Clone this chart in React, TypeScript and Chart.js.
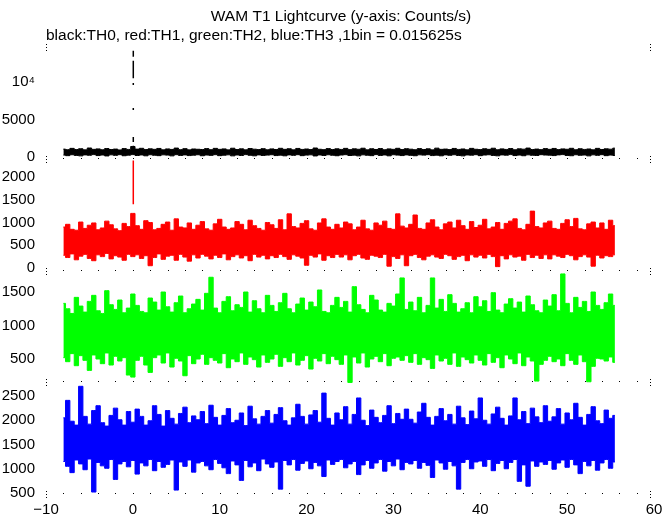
import React, { useEffect, useRef } from "react";
import { Chart, registerables } from "chart.js";

Chart.register(...registerables);

const TITLE = "WAM T1 Lightcurve (y-axis: Counts/s)";
const SUBTITLE = "black:TH0, red:TH1, green:TH2, blue:TH3 ,1bin = 0.015625s";

// bin start times (s) of 0.5 s summary bins
const TIMES = [
  -8, -7.5, -7, -6.5, -6, -5.5, -5, -4.5, -4, -3.5, -3, -2.5, -2, -1.5, -1, -0.5,
  0, 0.5, 1, 1.5, 2, 2.5, 3, 3.5, 4, 4.5, 5, 5.5, 6, 6.5, 7, 7.5,
  8, 8.5, 9, 9.5, 10, 10.5, 11, 11.5, 12, 12.5, 13, 13.5, 14, 14.5, 15, 15.5,
  16, 16.5, 17, 17.5, 18, 18.5, 19, 19.5, 20, 20.5, 21, 21.5, 22, 22.5, 23, 23.5,
  24, 24.5, 25, 25.5, 26, 26.5, 27, 27.5, 28, 28.5, 29, 29.5, 30, 30.5, 31, 31.5,
  32, 32.5, 33, 33.5, 34, 34.5, 35, 35.5, 36, 36.5, 37, 37.5, 38, 38.5, 39, 39.5,
  40, 40.5, 41, 41.5, 42, 42.5, 43, 43.5, 44, 44.5, 45, 45.5, 46, 46.5, 47, 47.5,
  48, 48.5, 49, 49.5, 50, 50.5, 51, 51.5, 52, 52.5, 53, 53.5, 54, 54.5, 55, 55.5,
];

// TH0 (black) max / min counts/s within each bin
const BLACK_MAX = [
  1050, 980, 1150, 1000, 1100, 950, 1200, 1020, 1080, 970, 1130, 1000, 1060, 940, 1120, 1010,
  1400, 1050, 1160, 990, 1090, 1020, 1140, 960, 1080, 1010, 1190, 980, 1110, 950, 1070, 1030,
  1000, 1120, 970, 1150, 1020, 1080, 950, 1170, 1000, 1090, 960, 1130, 1040, 990, 1110, 970,
  1080, 1000, 1160, 1020, 1100, 960, 1140, 1010, 1070, 990, 1200, 1030, 980, 1120, 1000, 1090,
  1010, 1150, 980, 1090, 1030, 1170, 960, 1100, 1000, 1130, 970, 1080, 1020, 1160, 990, 1110,
  1040, 970, 1120, 1000, 1090, 950, 1180, 1020, 1060, 990, 1140, 1010, 1070, 960, 1150, 1030,
  990, 1100, 1020, 1170, 970, 1080, 1010, 1130, 960, 1090, 1040, 1190, 1000, 1060, 980, 1120,
  1020, 1140, 990, 1080, 1030, 1160, 970, 1100, 1010, 1070, 960, 1150, 1000, 1090, 1040, 1180,
];
const BLACK_MIN = [
  250, 180, 300, 210, 150, 280, 230, 320, 190, 260, 140, 290, 220, 310, 170, 240,
  320, 200, 270, 160, 300, 230, 180, 290, 250, 150, 310, 210, 280, 190, 240, 300,
  170, 260, 220, 310, 180, 240, 290, 150, 270, 200, 320, 230, 160, 280, 210, 250,
  300, 190, 240, 160, 280, 220, 310, 180, 250, 290, 140, 270, 210, 300, 230, 170,
  260, 310, 200, 240, 150, 290, 230, 180, 320, 210, 270, 160, 300, 250, 190, 280,
  220, 170, 290, 250, 310, 190, 240, 160, 280, 230, 300, 200, 150, 270, 240, 310,
  180, 260, 300, 210, 160, 280, 240, 320, 190, 250, 170, 290, 230, 200, 310, 260,
  240, 190, 280, 320, 210, 170, 300, 230, 260, 150, 290, 220, 310, 180, 250, 200,
];

// TH1 (red)
const RED_MAX = [
  900, 960, 850, 830, 1010, 870, 940, 990, 840, 880, 1030, 950, 860, 820, 980, 910,
  1200, 930, 850, 1040, 1000, 840, 870, 960, 1010, 830, 1080, 900, 880, 990, 850, 940,
  1020, 860, 830, 970, 1070, 900, 850, 880, 1020, 960, 840, 1050, 930, 870, 830, 1000,
  950, 870, 1060, 840, 1190, 910, 880, 980, 1040, 860, 830, 990, 1080, 900, 850, 960,
  880, 1010, 970, 840, 900, 1050, 860, 830, 990, 940, 1030, 870, 850, 1190, 920, 880,
  960, 1165, 870, 850, 990, 1060, 900, 840, 970, 1010, 880, 1050, 930, 850, 1020, 890,
  940, 1070, 860, 900, 1000, 850, 980, 1030, 1080, 870, 840, 960, 1250, 910, 880, 990,
  1030, 870, 850, 980, 1060, 910, 1090, 860, 840, 970, 1010, 880, 990, 850, 1050, 930,
];
const RED_MIN = [
  280, 230, 310, 180, 260, 300, 210, 160, 290, 250, 320, 200, 270, 240, 170, 300,
  250, 290, 210, 270, 50, 230, 310, 190, 260, 280, 170, 300, 240, 150, 290, 220,
  300, 260, 200, 280, 230, 310, 180, 250, 290, 220, 270, 160, 300, 240, 280, 200,
  270, 230, 300, 250, 190, 290, 260, 220, 60, 280, 240, 310, 170, 270, 230, 300,
  240, 290, 180, 270, 300, 220, 190, 280, 260, 230, 300, 40, 250, 210, 290, 50,
  270, 300, 230, 180, 260, 290, 240, 210, 300, 270, 190, 250, 280, 160, 290, 240,
  280, 220, 300, 250, 30, 270, 200, 290, 240, 260, 170, 300, 230, 280, 210, 290,
  200, 290, 260, 230, 300, 270, 180, 250, 290, 240, 40, 280, 220, 270, 250, 290,
];

// TH2 (green)
const GREEN_MAX = [
  1330, 1250, 1180, 1420, 1290, 1200, 1360, 1450, 1220, 1180, 1520, 1310, 1240, 1380, 1190, 1260,
  1470, 1300, 1210, 1190, 1410, 1350, 1230, 1500, 1280, 1200, 1340, 1440, 1190, 1250, 1320, 1390,
  1230, 1480, 1720, 1260, 1190, 1360, 1430, 1220, 1310, 1270, 1500, 1200, 1370, 1250, 1190, 1450,
  1300, 1210, 1340, 1480, 1250, 1190, 1320, 1410, 1230, 1350, 1280, 1530, 1210, 1190, 1300, 1420,
  1270, 1360, 1200, 1580, 1310, 1240, 1190, 1450, 1380, 1230, 1200, 1330, 1290, 1470, 1710, 1240,
  1350, 1220, 1420, 1190, 1300, 1710, 1260, 1390, 1210, 1460, 1330, 1200, 1250, 1340, 1190, 1430,
  1280, 1370, 1210, 1490, 1230, 1190, 1320, 1400, 1260, 1350, 1200, 1440, 1310, 1220, 1190, 1380,
  1290, 1460, 1220, 1770, 1330, 1190, 1420, 1270, 1360, 1210, 1500, 1300, 1240, 1340, 1470, 1300,
];
const GREEN_MIN = [
  520, 460, 580, 400, 550, 480, 330, 560, 500, 430, 590, 410, 540, 470, 520, 260,
  230, 480, 540, 410, 300, 520, 560, 440, 590, 380, 510, 470, 250, 550, 430, 500,
  570, 420, 520, 480, 440, 580, 370, 500, 460, 590, 420, 530, 490, 380, 560, 450,
  500, 570, 390, 520, 460, 590, 410, 480, 550, 350, 510, 470, 580, 430, 540, 490,
  420, 560, 150, 530, 440, 590, 380, 500, 540, 460, 580, 400, 510, 530, 480, 550,
  450, 580, 420, 520, 490, 360, 560, 470, 510, 420, 590, 390, 530, 490, 440, 560,
  480, 410, 580, 450, 520, 370, 560, 500, 430, 590, 400, 530, 470, 170, 420, 480,
  540, 460, 500, 400, 580, 480, 420, 560, 460, 160, 390, 510, 500, 470, 530, 450,
];

// TH3 (blue)
const BLUE_MAX = [
  2050, 2410, 1980, 1900, 2700, 2080, 1920, 2200, 2300, 1950, 1880, 2100, 2250, 2010, 1900, 2180,
  1960, 2230, 2080, 1900, 1990, 2300, 2120, 1880, 2200, 2040, 1920, 2140, 2270, 1950, 2090, 2010,
  2180, 1930, 2310, 2060, 1900, 2100, 2240, 1950, 2000, 2150, 1890, 2290, 2030, 1920, 2080, 2200,
  1940, 2120, 2260, 1990, 1900, 2050, 2330, 2080, 1920, 2110, 2200, 1960, 2560, 2040, 1900, 2150,
  2010, 2280, 1920, 2120, 2460, 2000, 1890, 2210, 2060, 1950, 2100, 2300, 1930, 2140, 2020, 2230,
  2020, 1940, 2170, 2350, 2060, 1900, 2080, 2240, 1990, 2120, 1920, 2290, 2050, 1910, 2190, 2030,
  2460, 2000, 1920, 2130, 2270, 2040, 1900, 2090, 2460, 2010, 2180, 1930, 2250, 2070, 1950, 2300,
  1980, 2070, 2240, 1920, 2150, 2010, 2350, 2060, 1900, 2120, 2280, 1990, 1930, 2210, 2040, 2100,
];
const BLUE_MIN = [
  1150, 1050, 920, 1180, 1100, 980, 1200, 520, 1130, 1060, 1010, 1190, 780, 1100, 1150, 1040,
  1170, 890, 1120, 1060, 1190, 960, 1150, 1030, 1090, 1180, 560, 1140, 1050, 1180, 930, 1120,
  1150, 1060, 980, 1190, 1110, 1020, 900, 1160, 1080, 760, 1170, 1040, 1120, 960, 1200, 1100,
  1030, 1140, 580, 1170, 1080, 1190, 970, 1110, 1160, 1000, 1130, 1060, 840, 1180, 1090, 1150,
  1190, 1020, 1100, 1150, 880, 1080, 1170, 1010, 1120, 1190, 950, 1150, 1060, 1200, 980, 1130,
  1100, 1170, 1010, 1130, 1070, 820, 1180, 1120, 990, 1150, 1060, 580, 1130, 1190, 1000, 1140,
  1160, 1050, 1190, 960, 1110, 1170, 1000, 1130, 1190, 740, 1080, 640, 1160, 1050, 1140, 1090,
  1170, 990, 1120, 1180, 1030, 1190, 1080, 900, 1150, 1060, 1170, 970, 1120, 1190, 1010, 1140,
];

// burst at trigger time: isolated bins seen as vertical segments [low, high]
const BURST_TIME = 0.05;
const BLACK_BURST = [
  [1150, 1500],
  [2000, 2670],
  [6270, 6530],
  [9600, 9870],
  [10490, 12840],
  [13370, 14170],
];
const RED_BURST = [
  [1400, 2360],
  [1750, 1830],
];

const X_TICKS = [-10, 0, 10, 20, 30, 40, 50, 60];
const BLACK_TICKS = [0, 5000, 10000];
const RED_TICKS = [0, 500, 1000, 1500, 2000];
const GREEN_TICKS = [500, 1000, 1500];
const BLUE_TICKS = [500, 1000, 1500, 2000, 2500];

const FONT_FAMILY = "'Liberation Sans', Arial, Helvetica, sans-serif";

function bandDatasets(maxV: number[], minV: number[], color: string, axis: string) {
  const common = {
    borderColor: color,
    backgroundColor: color,
    borderWidth: 1,
    pointRadius: 0,
    stepped: "middle" as const,
    yAxisID: axis,
  };
  return [
    { ...common, data: TIMES.map((t, i) => ({ x: t, y: maxV[i] })), fill: false },
    { ...common, data: TIMES.map((t, i) => ({ x: t, y: minV[i] })), fill: "-1" },
  ];
}

function burstDataset(segs: number[][], color: string, axis: string) {
  const data: { x: number; y: number | null }[] = [];
  segs.forEach(([lo, hi]) => {
    data.push({ x: BURST_TIME, y: lo });
    data.push({ x: BURST_TIME, y: hi });
    data.push({ x: BURST_TIME, y: null });
  });
  return {
    data,
    borderColor: color,
    backgroundColor: color,
    borderWidth: 1.5,
    pointRadius: 0,
    spanGaps: false,
    fill: false,
    yAxisID: axis,
  };
}

function yAxis(min: number, max: number, ticks: number[], fmt?: (v: number) => string) {
  return {
    type: "linear" as const,
    position: "left" as const,
    stack: "panels",
    stackWeight: 1,
    min,
    max,
    grid: { display: false, drawTicks: false },
    border: { display: false },
    afterBuildTicks: (s: any) => {
      s.ticks = ticks.map((v) => ({ value: v }));
    },
    afterFit: (s: any) => {
      s.width = 46;
    },
    ticks: {
      color: "#000",
      padding: 11,
      font: { family: FONT_FAMILY, size: 15 },
      autoSkip: false,
      callback: (v: any) => (fmt ? fmt(Number(v)) : String(v)),
    },
  };
}

const AXIS_IDS = ["yBlue", "yGreen", "yRed", "yBlack"];

const decorPlugin = {
  id: "decor",
  afterDraw(chart: any) {
    const ctx = chart.ctx;
    const area = chart.chartArea;
    const xs = chart.scales.x;
    ctx.save();
    ctx.fillStyle = "#000";
    const bounds: number[] = [];
    AXIS_IDS.forEach((id) => {
      const s = chart.scales[id];
      bounds.push(Math.round(s.top), Math.round(s.bottom));
      for (let v = -8; v <= 58; v += 2) {
        ctx.fillRect(Math.round(xs.getPixelForValue(v)), Math.round(s.bottom) - 2, 1, 1);
      }
    });
    bounds.forEach((b) => {
      [-3, 0, 3].forEach((d) => {
        ctx.fillRect(Math.round(area.left), b + d - 1, 1, 1);
        ctx.fillRect(Math.round(area.right) - 4, b + d - 1, 1, 1);
      });
    });
    ctx.fillStyle = "#000";
    ctx.font = `15.5px ${FONT_FAMILY}`;
    ctx.textBaseline = "alphabetic";
    ctx.textAlign = "center";
    ctx.fillText(TITLE, 341, 21);
    ctx.textAlign = "left";
    ctx.fillText(SUBTITLE, area.left, 40);
    ctx.restore();
  },
};

export default function App() {
  const ref = useRef<HTMLCanvasElement | null>(null);
  useEffect(() => {
    if (!ref.current) return;
    const chart = new Chart(ref.current, {
      type: "line",
      data: {
        datasets: [
          ...bandDatasets(BLACK_MAX, BLACK_MIN, "#000000", "yBlack"),
          burstDataset(BLACK_BURST, "#000000", "yBlack"),
          ...bandDatasets(RED_MAX, RED_MIN, "#ff0000", "yRed"),
          burstDataset(RED_BURST, "#ff0000", "yRed"),
          ...bandDatasets(GREEN_MAX, GREEN_MIN, "#00ff00", "yGreen"),
          ...bandDatasets(BLUE_MAX, BLUE_MIN, "#0000ff", "yBlue"),
        ] as any,
      },
      options: {
        animation: false,
        responsive: false,
        events: [],
        layout: { padding: { top: 48, right: 18, bottom: 0, left: 0 } },
        plugins: {
          legend: { display: false },
          tooltip: { enabled: false },
          title: { display: false },
        },
        scales: {
          x: {
            type: "linear",
            min: -10,
            max: 60,
            position: "bottom",
            grid: { display: false, drawTicks: false },
            border: { display: false },
            afterBuildTicks: (s: any) => {
              s.ticks = X_TICKS.map((v) => ({ value: v }));
            },
            afterFit: (s: any) => {
              s.height = 20;
            },
            ticks: {
              color: "#000",
              padding: 6,
              maxRotation: 0,
              autoSkip: false,
              font: { family: FONT_FAMILY, size: 15 },
              callback: (v: any) => String(v).replace("-", "\u2212"),
            },
          },
          yBlue: yAxis(459, 2763, BLUE_TICKS),
          yGreen: yAxis(138, 1806, GREEN_TICKS),
          yRed: yAxis(-77, 2379, RED_TICKS),
          yBlack: yAxis(-367, 14533, BLACK_TICKS, (v) => (v === 10000 ? "10\u2074" : String(v))),
        } as any,
      },
      plugins: [decorPlugin],
    });
    return () => chart.destroy();
  }, []);
  return (
    <div style={{ position: "absolute", left: 0, top: 0, width: 672, height: 515, background: "#fff" }}>
      <canvas ref={ref} width={672} height={515} style={{ display: "block" }} />
    </div>
  );
}
